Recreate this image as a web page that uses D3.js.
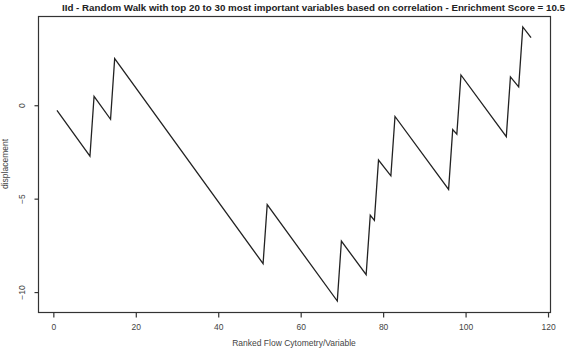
<!DOCTYPE html>
<html>
<head>
<meta charset="utf-8">
<script src="https://cdn.jsdelivr.net/npm/d3@7"></script>
<style>
  html, body { margin: 0; padding: 0; background: #fff; }
  svg { display: block; font-family: "Liberation Sans", Arial, sans-serif; }
</style>
</head>
<body>
<svg id="chart" width="567" height="350"></svg>
<script>
// Vertices of the random walk (rank index, displacement)
const walkX = [1, 9, 10, 14, 15, 51, 52, 69, 70, 76, 77, 78, 79, 82, 83, 96, 97, 98, 99, 110, 111, 113, 114, 116];
const walkY = [-0.28, -2.73, 0.48, -0.75, 2.50, -8.48, -5.32, -10.48, -7.27, -9.07, -5.89, -6.16, -2.93, -3.78, -0.60, -4.50, -1.30, -1.55, 1.62, -1.68, 1.52, 0.98, 4.19, 3.62];
const xTicks = [0, 20, 40, 60, 80, 100, 120];
const yTicks = [-10, -5, 0];
const titleText = "IId - Random Walk with top 20 to 30 most important variables based on correlation - Enrichment Score = 10.5";
const xLabel = "Ranked Flow Cytometry/Variable";
const yLabel = "displacement";

const svg = d3.select("#chart");
const plot = { left: 38, right: 550, top: 16, bottom: 312 };

// R-style 4% padding on the data range
const xMin = d3.min(walkX), xMax = d3.max(walkX);
const yMin = d3.min(walkY), yMax = d3.max(walkY);
const xPad = (xMax - xMin) * 0.04, yPad = (yMax - yMin) * 0.04;

const x = d3.scaleLinear().domain([xMin - xPad, xMax + xPad]).range([plot.left, plot.right]);
const y = d3.scaleLinear().domain([yMin - yPad, yMax + yPad]).range([plot.bottom, plot.top]);

const ink = "#333";

// Box
svg.append("rect")
  .attr("x", plot.left + 0.5).attr("y", plot.top + 0.5)
  .attr("width", plot.right - plot.left).attr("height", plot.bottom - plot.top)
  .attr("fill", "none").attr("stroke", ink).attr("stroke-width", 1.2);

// X axis
const xAxis = svg.append("g")
  .attr("transform", `translate(0.5,${plot.bottom + 0.5})`)
  .call(d3.axisBottom(x).tickValues(xTicks).tickSize(5).tickPadding(6).tickFormat(d3.format("d")));
xAxis.select(".domain").remove();
xAxis.selectAll("line").attr("stroke", ink).attr("stroke-width", 1.2);
xAxis.selectAll("text").attr("fill", "#444").attr("font-size", 8.5);

// Y axis
const yAxis = svg.append("g")
  .attr("transform", `translate(${plot.left + 0.5},0.5)`)
  .call(d3.axisLeft(y).tickValues(yTicks).tickSize(4).tickFormat(d3.format("d")));
yAxis.select(".domain").remove();
yAxis.selectAll("line").attr("stroke", ink).attr("stroke-width", 1.2);
yAxis.selectAll("text")
  .attr("fill", "#444").attr("font-size", 8.5)
  .attr("x", null).attr("dy", null)
  .attr("text-anchor", "middle")
  .attr("transform", d => `translate(-16,${y(d)}) rotate(-90)`)
  .attr("y", 0).attr("dy", "0.32em");
yAxis.selectAll(".tick").attr("transform", null);
yAxis.selectAll(".tick line").attr("transform", d => `translate(0,${y(d)})`);

// Walk line
const line = d3.line().x(d => x(d[0])).y(d => y(d[1]));
svg.append("path")
  .datum(d3.zip(walkX, walkY))
  .attr("d", line)
  .attr("fill", "none").attr("stroke", "#222").attr("stroke-width", 1.3)
  .attr("stroke-linejoin", "miter");

// Title
svg.append("text")
  .attr("x", 62).attr("y", 11)
  .attr("font-size", 9).attr("font-weight", "bold").attr("fill", "#222")
  .attr("textLength", 503).attr("lengthAdjust", "spacingAndGlyphs")
  .text(titleText);

// Axis labels
svg.append("text")
  .attr("x", (plot.left + plot.right) / 2).attr("y", 346)
  .attr("text-anchor", "middle").attr("font-size", 8.5).attr("fill", "#444")
  .text(xLabel);

svg.append("text")
  .attr("transform", `translate(8,${(plot.top + plot.bottom) / 2}) rotate(-90)`)
  .attr("text-anchor", "middle").attr("font-size", 8.5).attr("fill", "#444")
  .text(yLabel);
</script>
</body>
</html>
